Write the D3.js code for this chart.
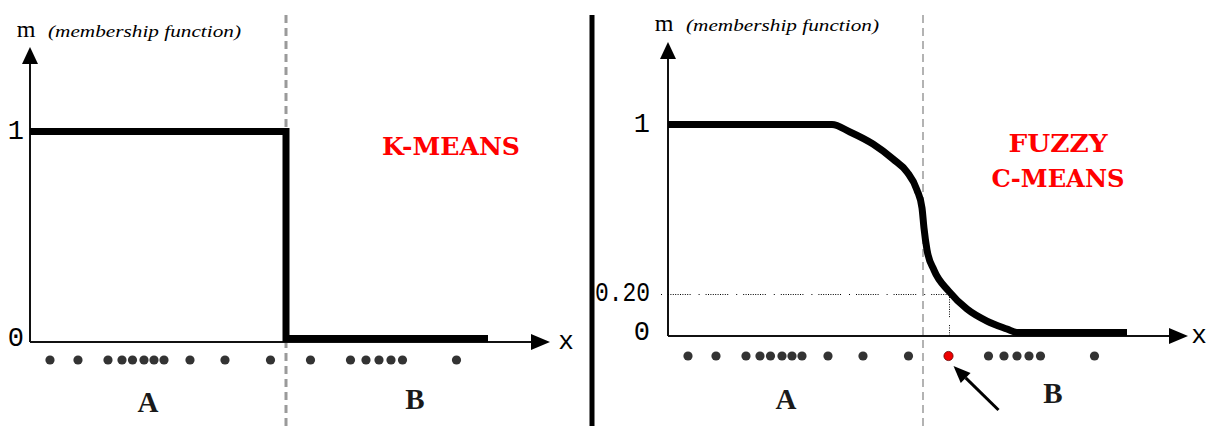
<!DOCTYPE html>
<html>
<head>
<meta charset="utf-8">
<script src="https://cdn.jsdelivr.net/npm/d3@7"></script>
<style>
  html, body { margin: 0; padding: 0; background: #fff; }
  svg { display: block; }
</style>
</head>
<body>
<svg id="chart" width="1209" height="426"></svg>
<script>
// Sample points along x (same data in both panels)
const samples = [0.40, 0.96, 1.56, 1.84, 2.05, 2.28, 2.48, 2.68, 3.20, 3.90, 4.81,
                 5.61, 6.41, 6.72, 6.98, 7.22, 7.45, 8.53];
// index of the highlighted sample in the fuzzy panel
const highlightIndex = 11;

// Crisp (k-means) membership of cluster A
const crispX = [0, 5.12, 5.12, 9.16];
const crispM = [1, 1, 0, 0];

// Fuzzy (c-means) membership of cluster A
const fuzzyX = [0, 3.28, 3.64, 4.10, 4.50, 4.78, 4.98, 5.08, 5.12, 5.18, 5.32, 5.61, 5.98, 6.38, 6.78, 6.98, 9.18];
const fuzzyM = [1, 1, 0.964, 0.906, 0.834, 0.772, 0.685, 0.599, 0.502, 0.397, 0.300, 0.20, 0.113, 0.055, 0.017, 0, 0];

// Cluster boundaries
const boundaryCrisp = 5.12;
const boundaryFuzzy = 5.10;

// Axis tick labels
const crispTicks = [0, 1];
const crispTickText = ["0", "1"];
const fuzzyTicks = [0, 0.20, 1];
const fuzzyTickText = ["0", "0.20", "1"];

const clusterLabels = ["A", "B"];
const clusterLabelX = [2.36, 7.7];

const svg = d3.select("#chart");

// Shared horizontal scale (units along x)
const xs = d3.scaleLinear().domain([0, 10]).range([0, 500]);
const LIFT = 3.5;   // half of the thick stroke, so the curve rests on the axis
const serif = "'Liberation Serif', 'Times New Roman', serif";
const mono = "'Liberation Mono', 'Courier New', monospace";

// vertical divider between the two panels
svg.append("line")
  .attr("x1", 592).attr("x2", 592).attr("y1", 15).attr("y2", 426)
  .attr("stroke", "#000").attr("stroke-width", 5);

function drawPanel(opt) {
  const g = svg.append("g").attr("transform", `translate(${opt.ox},0)`);
  const y = d3.scaleLinear().domain([0, 1]).range([opt.y0, opt.y1]);
  const x0 = xs(0), xEnd = xs(10.4);

  // dashed cluster boundary
  g.append("line")
    .attr("x1", xs(opt.boundary)).attr("x2", xs(opt.boundary))
    .attr("y1", 15).attr("y2", 426)
    .attr("stroke", "#9a9a9a").attr("stroke-width", opt.dashW)
    .attr("stroke-dasharray", "8,5");

  // axes
  g.append("line").attr("x1", x0).attr("x2", x0)
    .attr("y1", y(0)).attr("y2", opt.yTop + 14)
    .attr("stroke", "#111").attr("stroke-width", 2);
  g.append("path")
    .attr("d", `M${x0},${opt.yTop} L${x0 - 8},${opt.yTop + 17} L${x0 + 8},${opt.yTop + 17} Z`)
    .attr("fill", "#000");
  g.append("line").attr("x1", x0).attr("x2", xEnd - 14)
    .attr("y1", y(0)).attr("y2", y(0))
    .attr("stroke", "#111").attr("stroke-width", 2);
  g.append("path")
    .attr("d", `M${xEnd},${y(0)} L${xEnd - 19},${y(0) - 8} L${xEnd - 19},${y(0) + 8} Z`)
    .attr("fill", "#000");

  // axis titles
  g.append("text").attr("x", x0 - 4).attr("y", opt.mBase)
    .attr("text-anchor", "middle")
    .attr("font-family", serif).attr("font-size", 24).text("m");
  g.append("text").attr("x", x0 + 18).attr("y", opt.mBase)
    .attr("font-family", serif).attr("font-style", "italic")
    .attr("font-size", 17).attr("textLength", 193).attr("lengthAdjust", "spacingAndGlyphs")
    .text("(membership function)");
  g.append("text").attr("x", xEnd + opt.xLabelGap).attr("y", y(0))
    .attr("text-anchor", "middle").attr("dominant-baseline", "central")
    .attr("font-family", mono).attr("font-size", 26).text("x");

  // y tick labels
  opt.ticks.forEach((t, i) => {
    const label = opt.tickText[i];
    const ty = t === 0 ? y(0) - 3 : (t === 1 ? y(1) - LIFT : y(t));
    const el = g.append("text").attr("x", x0 - opt.tickGap).attr("y", ty)
      .attr("text-anchor", "end").attr("dominant-baseline", "central")
      .attr("font-family", mono).attr("font-size", 27).attr("font-weight", 300)
      .text(label);
    if (label.length > 1) el.attr("textLength", 55).attr("lengthAdjust", "spacingAndGlyphs");
  });

  // extra decoration (dotted guides etc.)
  if (opt.extra) opt.extra(g, y);

  // membership curve
  const pts = opt.mx.map((d, i) => [xs(d), y(opt.mv[i]) - LIFT]);
  g.append("path")
    .attr("d", d3.line().curve(opt.curve)(pts))
    .attr("fill", "none").attr("stroke", "#000")
    .attr("stroke-width", 7).attr("stroke-linejoin", "miter");

  // samples
  const dotY = y(0) + opt.dotGap;
  g.selectAll("circle.s").data(samples).join("circle")
    .attr("class", "s")
    .attr("cx", d => xs(d)).attr("cy", dotY).attr("r", 4.6)
    .attr("fill", (d, i) => opt.highlight && i === highlightIndex ? "#ee0000" : "#333")
    .attr("stroke", (d, i) => opt.highlight && i === highlightIndex ? "#660000" : "none")
    .attr("stroke-width", 0.8);

  // cluster labels
  clusterLabels.forEach((c, i) => {
    g.append("text").attr("x", xs(clusterLabelX[i])).attr("y", opt.labelY[i])
      .attr("text-anchor", "middle").attr("dominant-baseline", "central")
      .attr("font-family", serif).attr("font-size", 29).attr("font-weight", "bold")
      .attr("fill", "#1a1a1a")
      .text(c);
  });

  // method title
  opt.title.forEach((t, i) => {
    g.append("text").attr("x", opt.titleX - opt.ox).attr("y", opt.titleY[i])
      .attr("text-anchor", "middle").attr("dominant-baseline", "central")
      .attr("font-family", "'DejaVu Serif', serif").attr("font-weight", "bold")
      .attr("font-size", 24).attr("fill", "#ff0000")
      .attr("textLength", opt.titleW[i]).attr("lengthAdjust", "spacingAndGlyphs")
      .text(t);
  });
  return { g, y, dotY };
}

// K-means panel
drawPanel({
  ox: 30, y0: 342, y1: 135, yTop: 47, mBase: 37, boundary: boundaryCrisp, dashW: 3,
  ticks: crispTicks, tickText: crispTickText, tickGap: 6, xLabelGap: 16,
  mx: crispX, mv: crispM, curve: d3.curveLinear,
  dotGap: 18, labelY: [402, 399], highlight: false,
  title: ["K-MEANS"], titleX: 451, titleY: [146], titleW: [138]
});

// Fuzzy c-means panel
const right = drawPanel({
  ox: 668, y0: 336, y1: 128, yTop: 42, mBase: 31, boundary: boundaryFuzzy, dashW: 1.5,
  ticks: fuzzyTicks, tickText: fuzzyTickText, tickGap: 18, xLabelGap: 11,
  mx: fuzzyX, mv: fuzzyM, curve: d3.curveMonotoneX,
  dotGap: 20, labelY: [399, 393], highlight: true,
  title: ["FUZZY", "C-MEANS"], titleX: 1058, titleY: [143, 178], titleW: [99, 133],
  extra: (g, y) => {
    const hx = Math.round(xs(samples[highlightIndex])) + 0.5;
    const hy = Math.round(y(fuzzyM[fuzzyX.indexOf(samples[highlightIndex])])) + 0.5;
    const group = d3.range(9).map(() => "1,1.4").join(",") + ",1,8";
    g.append("line").attr("x1", xs(0) - 7).attr("x2", hx).attr("y1", hy).attr("y2", hy)
      .attr("stroke", "#000").attr("stroke-width", 1).attr("stroke-dasharray", "1,6," + group);
    g.append("line").attr("x1", hx).attr("x2", hx).attr("y1", hy).attr("y2", y(0))
      .attr("stroke", "#000").attr("stroke-width", 1).attr("stroke-dasharray", group);
  }
});

// pointer arrow to the highlighted sample
{
  const px = 668 + xs(samples[highlightIndex]);
  const py = right.dotY;
  const tip = [px + 5, py + 10], tail = [px + 50, py + 54];
  const ang = Math.atan2(tip[1] - tail[1], tip[0] - tail[0]);
  const L = 17, W = 7;
  const bx = tip[0] - L * Math.cos(ang), by = tip[1] - L * Math.sin(ang);
  svg.append("line").attr("x1", tail[0]).attr("y1", tail[1]).attr("x2", bx).attr("y2", by)
    .attr("stroke", "#000").attr("stroke-width", 3);
  svg.append("path")
    .attr("d", `M${tip[0]},${tip[1]} L${bx - W * Math.sin(ang)},${by + W * Math.cos(ang)} L${bx + W * Math.sin(ang)},${by - W * Math.cos(ang)} Z`)
    .attr("fill", "#000");
}
</script>
</body>
</html>
